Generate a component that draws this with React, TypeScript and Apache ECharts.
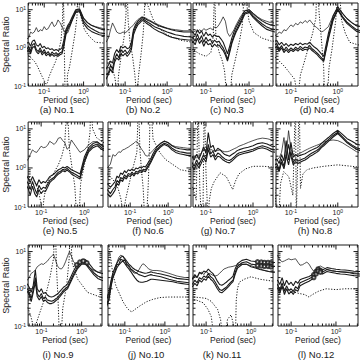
import React, { useEffect, useRef } from "react";
import * as echarts from "echarts";

// ---------- data ----------
const PERIOD = [0.025, 0.03, 0.035, 0.04, 0.045, 0.05, 0.056, 0.063, 0.071, 0.079, 0.089, 0.1, 0.112, 0.126, 0.141, 0.158, 0.178, 0.2, 0.224, 0.251, 0.282, 0.316, 0.355, 0.398, 0.447, 0.501, 0.631, 0.794, 1.0, 1.26, 1.58, 2.0, 2.51, 3.16, 4.0];

const CAPTIONS = ["(a) No.1", "(b) No.2", "(c) No.3", "(d) No.4", "(e) No.5", "(f) No.6", "(g) No.7", "(h) No.8", "(i) No.9", "(j) No.10", "(k) No.11", "(l) No.12"];
const X_MIN = [0.039, 0.037, 0.05, 0.048, 0.05, 0.026, 0.053, 0.048, 0.047, 0.038, 0.051, 0.051];
const X_MAX = [3.3, 3.7, 3.6, 2.7, 2.7, 4.0, 2.66, 2.7, 3.2, 4.0, 3.1, 3.1];
const Y_MIN = 0.1;
const Y_MAX = 15;
const X_NAME = "Period (sec)";
const Y_NAME = "Spectral Ratio";

const a_obs1 = [1.2, 1.2, 1.3, 1.4, 1.1, 1.5, 1.6, 1.2, 1.1, 1.3, 1.0, 1.1, 0.95, 1.0, 0.9, 0.95, 0.85, 0.9, 0.85, 0.9, 1.0, 1.6, 3.0, 3.9, 4.7, 6.2, 10, 10.5, 6, 4.6, 3.9, 3.5, 3.2, 3.0, 2.9];
const a_obs2 = [0.9, 1.0, 0.85, 1.1, 0.8, 1.2, 1.3, 0.9, 0.8, 1.0, 0.75, 0.9, 0.7, 0.8, 0.65, 0.78, 0.68, 0.75, 0.66, 0.74, 0.78, 1.3, 2.6, 3.5, 4.2, 5.5, 9, 9.5, 5, 3.8, 3.2, 2.8, 2.5, 2.4, 2.3];
const a_obs3 = [0.8, 0.85, 0.75, 0.9, 0.7, 1.0, 1.1, 0.8, 0.7, 0.85, 0.65, 0.78, 0.62, 0.7, 0.6, 0.68, 0.6, 0.66, 0.6, 0.66, 0.7, 1.1, 2.2, 3.1, 3.8, 5.0, 8.5, 9, 4.4, 3.2, 2.7, 2.4, 2.2, 2.1, 2.0];
const a_thin = [1.5, 1.6, 1.7, 1.8, 2.6, 2.4, 2.6, 3.4, 2.6, 3.0, 2.8, 3.6, 3.0, 3.2, 4.0, 4.8, 3.6, 4.0, 5.4, 4.6, 3.6, 2.8, 2.4, 2.5, 3.5, 5.0, 9.5, 10, 5.8, 4.5, 3.9, 3.6, 3.4, 3.2, 3.1];
const a_dot = [[0.035, 0.75], [0.039, 0.65], [0.058, 0.43], [0.068, 0.32], [0.09, 0.17], [0.112, 0.11], [0.12, 0.12], [0.131, 0.17], [0.155, 0.26], [0.193, 0.43], [0.227, 0.74], [0.268, 1.6], [0.29, 5], [0.305, 40], [0.32, 2], [0.34, 0.05], [0.37, 0.05], [0.39, 0.2], [0.44, 0.32], [0.52, 0.9], [0.61, 2.5], [0.68, 6.5], [0.72, 50], [0.78, 10], [0.9, 5.4], [1.05, 3], [1.39, 2], [2.0, 1.4], [3.0, 1.35], [4, 1.3]];

const b_obs1 = [0.25, 0.25, 0.28, 0.35, 0.45, 0.4, 0.7, 0.9, 0.75, 1.1, 1.0, 1.1, 0.95, 1.0, 1.4, 3.0, 4.1, 5.0, 5.6, 6.3, 6.0, 5.6, 5.2, 5.0, 4.6, 4.3, 3.8, 3.5, 3.2, 3.0, 2.8, 2.7, 2.6, 2.6, 2.6];
const b_obs2 = [0.18, 0.2, 0.2, 0.22, 0.35, 0.28, 0.5, 0.7, 0.55, 0.9, 0.75, 0.88, 0.7, 0.85, 1.05, 2.6, 3.6, 4.5, 5.0, 5.8, 5.5, 5.0, 4.6, 4.3, 3.9, 3.6, 3.2, 2.9, 2.6, 2.4, 2.2, 2.1, 2.0, 1.95, 1.9];
const b_obs3 = [0.14, 0.15, 0.15, 0.2, 0.28, 0.22, 0.42, 0.55, 0.48, 0.7, 0.62, 0.72, 0.6, 0.7, 0.9, 2.2, 3.1, 4.0, 4.5, 5.2, 5.0, 4.5, 4.1, 3.8, 3.4, 3.1, 2.7, 2.4, 2.1, 1.9, 1.8, 1.7, 1.65, 1.6, 1.6];
const b_thin = [1.2, 1.3, 1.4, 1.8, 3.0, 4.5, 3.5, 2.6, 2.4, 2.4, 2.6, 2.5, 2.7, 3.2, 3.5, 4.0, 4.8, 5.5, 6.0, 6.5, 6.3, 6.0, 5.5, 5.2, 4.8, 4.5, 4.0, 3.6, 3.3, 3.1, 3.0, 2.9, 2.8, 2.8, 2.8];
const b_dot = [[0.03, 0.75], [0.037, 0.65], [0.044, 0.4], [0.052, 0.25], [0.058, 0.15], [0.064, 0.05], [0.07, 0.2], [0.08, 0.6], [0.095, 2], [0.105, 8], [0.11, 60], [0.118, 5], [0.13, 1.5], [0.15, 0.6], [0.17, 0.2], [0.19, 0.05], [0.21, 0.2], [0.24, 0.7], [0.27, 2.5], [0.29, 10], [0.3, 60], [0.33, 15], [0.47, 5.4], [0.7, 3], [1.0, 2.2], [2, 1.6], [4, 1.4]];

const c_obs1 = [2.6, 2.6, 2.6, 2.6, 2.7, 2.6, 2.1, 3.0, 2.4, 2.8, 2.0, 2.6, 2.1, 2.3, 1.9, 2.2, 2.0, 2.0, 1.7, 1.4, 1.0, 0.7, 1.1, 1.8, 2.6, 3.5, 5.6, 9.2, 10, 7.8, 6.2, 5.1, 4.4, 4.0, 3.8];
const c_obs2 = [1.8, 1.8, 1.8, 1.9, 1.7, 1.9, 1.5, 2.3, 1.6, 2.1, 1.4, 1.9, 1.5, 1.7, 1.3, 1.6, 1.4, 1.5, 1.2, 1.0, 0.75, 0.5, 0.85, 1.45, 2.1, 2.9, 4.8, 8.2, 9.2, 6.8, 5.3, 4.3, 3.6, 3.2, 3.0];
const c_obs3 = [1.4, 1.4, 1.4, 1.5, 1.3, 1.5, 1.2, 1.8, 1.3, 1.6, 1.1, 1.5, 1.2, 1.3, 1.05, 1.25, 1.1, 1.2, 1.0, 0.85, 0.65, 0.45, 0.75, 1.3, 1.9, 2.6, 4.3, 7.6, 8.6, 6.2, 4.8, 3.8, 3.1, 2.8, 2.6];
const c_thin = [2.5, 2.5, 2.5, 2.5, 2.6, 2.5, 2.8, 2.6, 3.0, 2.7, 3.2, 2.9, 3.1, 3.3, 3.0, 3.5, 3.4, 4.0, 5.0, 6.5, 5.0, 2.5, 2.0, 2.4, 3.0, 4.0, 6.5, 9.5, 10, 8, 6.5, 5.5, 5.0, 4.6, 4.5];
const c_dot = [[0.04, 0.95], [0.05, 0.9], [0.07, 0.7], [0.1, 0.6], [0.13, 0.75], [0.148, 2], [0.158, 40], [0.17, 2], [0.2, 0.8], [0.24, 0.45], [0.27, 0.25], [0.29, 0.1], [0.3, 0.05], [0.36, 0.05], [0.4, 0.2], [0.5, 0.6], [0.6, 1.5], [0.7, 4], [0.8, 60], [0.9, 12], [1.0, 5], [1.3, 2.5], [2, 1.8], [3.3, 1.5], [4, 1.5]];

const d_obs1 = [1.4, 1.4, 1.4, 1.45, 1.5, 1.55, 1.2, 1.4, 1.15, 1.3, 1.1, 1.25, 1.15, 1.3, 1.2, 1.35, 1.2, 1.3, 1.25, 1.4, 1.2, 1.05, 0.95, 0.82, 0.7, 0.6, 2.4, 6.8, 12, 8, 5.8, 4.6, 3.8, 3.6, 3.5];
const d_obs2 = [1.1, 1.1, 1.1, 1.1, 1.2, 1.3, 0.9, 1.15, 0.85, 1.05, 0.85, 1.0, 0.88, 1.05, 0.92, 1.1, 0.95, 1.05, 1.0, 1.15, 0.95, 0.85, 0.75, 0.65, 0.55, 0.48, 1.9, 5.8, 10.5, 6.6, 4.7, 3.7, 3.0, 2.8, 2.8];
const d_obs3 = [0.95, 0.95, 0.95, 0.95, 1.0, 1.1, 0.8, 1.0, 0.75, 0.9, 0.75, 0.88, 0.8, 0.92, 0.82, 0.95, 0.85, 0.92, 0.88, 1.0, 0.85, 0.76, 0.68, 0.58, 0.5, 0.44, 1.7, 5.3, 9.8, 6.2, 4.3, 3.4, 2.7, 2.5, 2.5];
const d_thin = [2.0, 2.0, 2.0, 2.0, 2.1, 2.2, 2.6, 2.4, 3.0, 2.8, 3.4, 4.0, 3.6, 4.4, 4.0, 4.8, 4.4, 5.2, 4.6, 5.4, 4.5, 3.8, 3.4, 3.0, 2.6, 2.8, 3.6, 7, 11.5, 8, 5.8, 4.5, 3.8, 3.5, 3.4];
const d_dot = [[0.035, 0.6], [0.048, 0.55], [0.074, 0.32], [0.1, 0.2], [0.12, 0.15], [0.14, 0.05], [0.16, 0.2], [0.18, 0.32], [0.23, 0.9], [0.29, 2.4], [0.34, 6], [0.36, 60], [0.4, 8], [0.45, 1.5], [0.5, 0.3], [0.52, 0.05], [0.6, 0.05], [0.65, 0.3], [0.75, 0.9], [0.9, 5], [1.05, 60], [1.2, 5.4], [1.45, 2.4], [1.8, 1.4], [2.7, 1.2], [4, 1.1]];

const e_obs1 = [0.5, 0.5, 0.5, 0.55, 0.6, 0.55, 0.42, 0.6, 0.45, 0.35, 0.5, 0.4, 0.45, 0.42, 0.5, 0.6, 0.65, 0.7, 0.8, 0.9, 0.95, 1.05, 1.0, 1.1, 1.0, 0.9, 0.8, 0.7, 1.9, 3.3, 4.2, 4.6, 3.8, 3.4, 3.2];
const e_obs2 = [0.4, 0.4, 0.4, 0.42, 0.48, 0.4, 0.28, 0.45, 0.3, 0.22, 0.36, 0.28, 0.32, 0.3, 0.38, 0.48, 0.53, 0.58, 0.68, 0.78, 0.82, 0.92, 0.88, 0.97, 0.87, 0.78, 0.68, 0.58, 1.6, 2.9, 3.7, 4.1, 3.3, 2.9, 2.7];
const e_obs3 = [0.3, 0.3, 0.3, 0.33, 0.36, 0.3, 0.2, 0.34, 0.22, 0.18, 0.28, 0.22, 0.26, 0.25, 0.32, 0.42, 0.48, 0.53, 0.62, 0.7, 0.75, 0.85, 0.8, 0.88, 0.8, 0.7, 0.6, 0.52, 1.4, 2.6, 3.3, 3.7, 3.0, 2.6, 2.4];
const e_thin = [1.2, 1.2, 1.3, 1.4, 1.5, 1.65, 2.2, 2.9, 2.6, 2.5, 3.0, 3.6, 3.3, 3.4, 3.8, 4.8, 4.4, 4.0, 4.6, 5.8, 6.0, 5.0, 4.4, 3.0, 3.4, 5.2, 3.6, 2.5, 2.9, 3.9, 4.7, 4.7, 3.6, 3.3, 3.2];
const e_dot = [[0.035, 0.7], [0.05, 0.6], [0.07, 0.45], [0.085, 0.28], [0.1, 0.12], [0.105, 0.05], [0.115, 0.15], [0.13, 0.35], [0.15, 0.5], [0.19, 0.7], [0.25, 1.2], [0.3, 2], [0.35, 4], [0.4, 50], [0.45, 3], [0.52, 1], [0.6, 0.35], [0.67, 0.05], [0.75, 0.05], [0.82, 0.4], [1.0, 1.2], [1.2, 3], [1.35, 8], [1.42, 60], [1.55, 10], [1.9, 6], [2.7, 4.5], [4, 4]];

const f_obs1 = [0.4, 0.32, 0.38, 0.45, 0.62, 0.56, 0.75, 0.68, 0.85, 0.75, 0.9, 0.85, 0.95, 0.85, 1.0, 0.95, 1.05, 1.0, 1.1, 1.05, 1.25, 1.5, 1.8, 2.3, 2.8, 3.4, 4.2, 4.8, 4.4, 3.7, 3.3, 3.1, 3.0, 2.9, 2.9];
const f_obs2 = [0.28, 0.22, 0.28, 0.33, 0.48, 0.42, 0.57, 0.52, 0.67, 0.58, 0.72, 0.68, 0.78, 0.68, 0.82, 0.78, 0.88, 0.83, 0.93, 0.88, 1.07, 1.27, 1.58, 1.95, 2.45, 2.95, 3.7, 4.3, 3.9, 3.2, 2.8, 2.6, 2.5, 2.4, 2.4];
const f_obs3 = [0.22, 0.18, 0.22, 0.27, 0.4, 0.36, 0.5, 0.45, 0.58, 0.52, 0.64, 0.6, 0.7, 0.62, 0.74, 0.7, 0.8, 0.76, 0.85, 0.8, 0.97, 1.15, 1.42, 1.8, 2.25, 2.75, 3.4, 4.0, 3.6, 2.9, 2.5, 2.3, 2.2, 2.1, 2.1];
const f_thin = [1.0, 1.25, 2.2, 2.0, 2.3, 2.6, 2.5, 2.9, 3.0, 3.2, 3.4, 3.7, 4.0, 4.3, 4.8, 4.5, 3.6, 3.0, 2.6, 2.1, 2.0, 2.2, 2.5, 2.8, 3.2, 3.6, 4.3, 4.9, 4.5, 3.8, 3.5, 3.4, 3.3, 3.2, 3.2];
const f_dot = [[0.025, 0.7], [0.03, 0.6], [0.038, 0.45], [0.048, 0.3], [0.058, 0.15], [0.065, 0.05], [0.075, 0.15], [0.088, 0.3], [0.11, 0.76], [0.15, 2.5], [0.165, 60], [0.18, 3], [0.2, 0.8], [0.22, 0.3], [0.24, 0.05], [0.27, 0.05], [0.3, 0.4], [0.32, 3], [0.34, 60], [0.4, 5.5], [0.6, 2.5], [0.85, 1.65], [2.1, 0.9], [4, 0.8]];

const g_obs1 = [1.9, 1.9, 1.9, 1.9, 1.9, 2.0, 1.6, 2.2, 1.7, 2.3, 3.5, 2.4, 8, 3.3, 3.8, 2.6, 3.2, 2.9, 2.5, 2.2, 2.1, 2.0, 2.2, 2.4, 2.7, 2.9, 3.2, 3.4, 3.7, 4.2, 4.4, 4.1, 3.6, 3.5, 3.5];
const g_obs2 = [1.4, 1.4, 1.4, 1.4, 1.4, 1.4, 1.1, 1.6, 1.2, 1.6, 2.2, 1.7, 4, 2.3, 2.7, 1.9, 2.4, 2.2, 1.9, 1.7, 1.6, 1.55, 1.7, 1.9, 2.2, 2.4, 2.6, 2.8, 3.0, 3.4, 3.7, 3.4, 3.0, 2.85, 2.8];
const g_obs3 = [1.1, 1.1, 1.1, 1.1, 1.1, 1.15, 0.9, 1.3, 1.0, 1.3, 1.8, 1.4, 3, 1.9, 2.2, 1.6, 2.0, 1.9, 1.65, 1.5, 1.4, 1.35, 1.5, 1.7, 1.95, 2.15, 2.35, 2.5, 2.7, 3.1, 3.3, 3.0, 2.6, 2.5, 2.4];
const g_thin = [2.0, 2.0, 2.0, 2.0, 2.0, 2.0, 1.8, 2.2, 2.0, 2.4, 3.0, 2.6, 3.2, 3.0, 2.8, 2.7, 2.8, 2.9, 2.7, 2.6, 2.6, 2.7, 2.9, 3.1, 3.3, 3.6, 4.0, 4.5, 5.0, 5.5, 5.8, 5.6, 5.2, 5.0, 5.0];
const g_dot = [[0.04, 0.5], [0.053, 0.3], [0.062, 0.15], [0.068, 60], [0.074, 0.3], [0.08, 0.05], [0.086, 0.05], [0.092, 60], [0.1, 0.8], [0.11, 0.05], [0.118, 0.15], [0.13, 0.3], [0.15, 0.45], [0.2, 0.75], [0.27, 0.6], [0.32, 0.4], [0.37, 0.28], [0.42, 0.45], [0.5, 0.7], [0.7, 0.95], [1.0, 1.1], [1.7, 1.1], [2.7, 1.05], [4, 1.0]];

const h_obs1 = [1.6, 1.6, 1.6, 1.6, 1.6, 1.7, 1.3, 2.2, 1.5, 5, 1.6, 4.5, 1.9, 2.2, 2.0, 2.1, 2.2, 2.3, 2.5, 2.7, 2.9, 3.1, 3.3, 3.6, 4.2, 4.8, 6.0, 7.6, 9.2, 7.2, 5.6, 4.8, 4.1, 3.8, 3.7];
const h_obs2 = [1.2, 1.2, 1.2, 1.2, 1.2, 1.3, 0.9, 1.7, 1.1, 2.2, 1.2, 2.6, 1.4, 1.7, 1.5, 1.6, 1.7, 1.8, 2.0, 2.2, 2.4, 2.6, 2.8, 3.1, 3.6, 4.1, 5.3, 6.8, 8.2, 6.2, 4.7, 3.9, 3.3, 3.0, 2.9];
const h_obs3 = [1.0, 1.0, 1.0, 1.0, 1.0, 1.1, 0.8, 1.4, 0.95, 1.8, 4, 2.0, 1.2, 1.45, 1.3, 1.4, 1.5, 1.6, 1.75, 1.95, 2.1, 2.3, 2.5, 2.8, 3.3, 3.7, 4.8, 6.2, 7.6, 5.8, 4.4, 3.6, 3.0, 2.7, 2.6];
const h_thin = [1.6, 1.6, 1.6, 1.6, 1.6, 1.6, 1.8, 2.5, 6, 2.0, 9, 3.0, 2.2, 2.0, 2.2, 2.4, 2.6, 2.8, 3.0, 3.2, 3.4, 3.6, 3.8, 4.0, 4.3, 4.6, 5.0, 5.2, 5.0, 4.4, 3.7, 3.1, 2.6, 2.4, 2.3];
const h_dot = [[0.03, 0.5], [0.045, 0.35], [0.05, 0.05], [0.055, 0.05], [0.06, 0.4], [0.07, 0.8], [0.09, 0.6], [0.11, 0.2], [0.125, 60], [0.13, 0.05], [0.15, 60], [0.16, 0.3], [0.18, 0.7], [0.22, 0.9], [0.3, 1.0], [0.5, 1.1], [1.0, 1.2], [2, 1.1], [4, 1.0]];

const i_obs1 = [1.2, 1.2, 1.2, 1.25, 1.35, 1.1, 0.8, 1.25, 3.2, 1.0, 0.82, 1.0, 0.75, 0.8, 0.68, 0.62, 0.6, 0.62, 0.67, 0.72, 0.83, 0.95, 1.1, 1.2, 1.35, 1.75, 3.0, 4.6, 6.0, 6.0, 4.5, 3.3, 2.8, 2.6, 2.5];
const i_obs2 = [0.9, 0.9, 0.9, 0.95, 1.0, 0.8, 0.55, 0.95, 2.0, 0.75, 0.6, 0.75, 0.55, 0.6, 0.5, 0.48, 0.46, 0.48, 0.53, 0.58, 0.68, 0.78, 0.92, 1.02, 1.12, 1.45, 2.5, 3.9, 5.1, 5.1, 3.7, 2.7, 2.2, 2.0, 1.9];
const i_obs3 = [0.75, 0.75, 0.75, 0.8, 0.85, 0.68, 0.45, 0.8, 1.5, 0.62, 0.5, 0.62, 0.46, 0.5, 0.43, 0.4, 0.4, 0.42, 0.47, 0.52, 0.6, 0.7, 0.82, 0.92, 1.0, 1.3, 2.2, 3.5, 4.6, 4.6, 3.3, 2.4, 1.9, 1.7, 1.6];
const i_thin = [1.5, 1.6, 1.6, 1.6, 1.7, 2.0, 2.6, 2.8, 3.2, 3.9, 4.3, 4.7, 4.5, 5.0, 5.5, 6.5, 7.5, 8.5, 6.0, 4.1, 3.5, 3.4, 4.0, 5.3, 7.5, 10, 5.3, 4.2, 5.0, 4.6, 3.7, 3.1, 2.8, 2.6, 2.6];
const i_dot = [[0.03, 0.4], [0.047, 0.3], [0.055, 0.18], [0.063, 0.1], [0.069, 0.05], [0.075, 0.12], [0.085, 0.18], [0.1, 0.3], [0.125, 0.6], [0.16, 1.8], [0.2, 6.4], [0.22, 60], [0.24, 3], [0.26, 0.5], [0.28, 0.05], [0.31, 0.05], [0.34, 0.3], [0.43, 1.4], [0.49, 6.4], [0.52, 60], [0.58, 5], [0.8, 1.8], [1.4, 0.8], [2.9, 0.6], [4, 0.55]];
const i_marks = [[0.75, 4.4], [0.9, 5.2], [1.1, 5.6], [1.35, 5.0]];

const j_obs1 = [0.35, 0.4, 0.5, 0.75, 1.6, 2.6, 3.6, 4.8, 6.0, 7.0, 7.5, 6.5, 5.5, 4.6, 4.1, 3.6, 3.3, 3.1, 2.9, 2.8, 2.7, 2.6, 2.65, 2.75, 2.85, 2.75, 2.6, 2.5, 2.35, 2.2, 2.05, 1.9, 1.85, 1.8, 1.75];
const j_obs2 = [0.28, 0.32, 0.38, 0.55, 1.2, 2.1, 2.8, 4.4, 4.6, 6.2, 5.8, 5.9, 4.4, 4.2, 3.4, 3.1, 2.8, 2.6, 2.4, 2.3, 2.2, 2.1, 2.2, 2.3, 2.4, 2.3, 2.2, 2.1, 1.95, 1.8, 1.7, 1.6, 1.55, 1.5, 1.45];
const j_obs3 = [0.25, 0.28, 0.33, 0.5, 1.1, 1.9, 2.6, 3.6, 4.4, 5.0, 5.6, 4.8, 4.0, 3.4, 2.9, 2.4, 2.0, 1.7, 1.55, 1.5, 1.5, 1.55, 1.6, 1.7, 1.8, 1.8, 1.75, 1.7, 1.65, 1.6, 1.55, 1.45, 1.4, 1.35, 1.3];
const j_thin = [0.4, 0.5, 0.6, 0.8, 1.5, 2.5, 3.5, 5, 7, 8, 7.5, 6.0, 4.8, 3.8, 3.2, 2.8, 2.6, 2.7, 3.2, 4.0, 4.7, 4.4, 3.8, 3.4, 3.2, 3.1, 3.1, 3.0, 2.8, 2.6, 2.4, 2.2, 2.1, 2.0, 2.0];
const j_dot = [[0.038, 20], [0.045, 6], [0.05, 2.5], [0.06, 1.2], [0.075, 0.7], [0.09, 0.45], [0.11, 0.32], [0.13, 0.26], [0.15, 0.24], [0.18, 0.28], [0.24, 0.35], [0.35, 0.45], [0.5, 0.52], [0.75, 0.58], [1.2, 0.6], [2, 0.6], [4, 0.6]];

const k_obs1 = [1.8, 1.8, 1.8, 1.8, 1.8, 1.9, 2.4, 2.0, 2.8, 2.5, 3.0, 2.8, 3.4, 2.9, 2.6, 2.1, 1.6, 1.3, 1.25, 1.35, 1.5, 1.7, 1.9, 2.2, 3.5, 4.7, 5.8, 6.2, 5.6, 5.4, 5.3, 5.3, 5.2, 5.1, 5.1];
const k_obs2 = [1.3, 1.3, 1.3, 1.3, 1.3, 1.35, 1.7, 1.45, 2.0, 1.8, 2.2, 2.0, 2.6, 2.1, 1.9, 1.55, 1.2, 0.95, 0.9, 1.0, 1.1, 1.3, 1.5, 1.7, 2.8, 4.0, 5.0, 5.3, 4.6, 4.4, 4.3, 4.2, 4.1, 4.0, 4.0];
const k_obs3 = [1.1, 1.1, 1.1, 1.1, 1.1, 1.15, 1.4, 1.2, 1.7, 1.5, 1.85, 1.7, 2.2, 1.8, 1.6, 1.3, 1.0, 0.82, 0.78, 0.88, 1.0, 1.15, 1.35, 1.55, 2.5, 3.6, 4.5, 4.6, 3.9, 3.6, 3.3, 3.1, 2.9, 2.8, 2.8];
const k_thin = [1.8, 1.8, 1.8, 1.8, 1.8, 1.8, 2.2, 2.0, 2.6, 2.8, 2.4, 3.0, 2.6, 2.5, 2.3, 2.2, 2.3, 2.6, 3.0, 3.4, 3.6, 3.8, 3.9, 4.0, 4.2, 4.4, 4.6, 4.5, 4.2, 3.8, 3.4, 3.1, 2.9, 2.8, 2.8];
const k_dot = [[0.04, 0.6], [0.051, 0.6], [0.074, 0.58], [0.1, 0.55], [0.13, 0.46], [0.18, 0.28], [0.21, 0.15], [0.235, 0.05], [0.26, 0.05], [0.3, 0.15], [0.36, 0.2], [0.4, 0.12], [0.42, 0.05], [0.45, 0.05], [0.47, 0.5], [0.5, 1.0], [0.55, 1.5], [0.7, 1.8], [1.0, 2.1], [1.6, 1.8], [3.1, 1.6], [4, 1.6]];
const k_dot2 = [[0.04, 0.5], [0.06, 0.5], [0.086, 0.42], [0.11, 0.28], [0.13, 0.18], [0.15, 0.05]];
const k_marks = [[1.4, 5.3], [1.7, 5.2], [2.0, 5.1], [2.4, 5.1], [2.8, 5.0], [1.4, 4.2], [1.7, 4.1], [2.0, 4.0], [2.4, 4.0], [2.8, 3.9]];

const l_obs1 = [1.6, 1.6, 1.6, 1.6, 1.6, 1.7, 1.3, 2.0, 1.2, 1.7, 1.3, 1.5, 1.2, 1.6, 1.4, 1.75, 1.85, 1.95, 2.05, 2.15, 2.3, 2.5, 3.1, 3.8, 3.4, 3.2, 3.7, 3.5, 3.35, 3.25, 3.2, 3.1, 2.95, 2.9, 2.9];
const l_obs2 = [1.2, 1.2, 1.2, 1.2, 1.2, 1.3, 0.9, 1.45, 0.85, 1.2, 0.9, 1.0, 0.85, 1.15, 1.0, 1.45, 1.55, 1.65, 1.75, 1.85, 2.0, 2.2, 2.8, 3.4, 3.0, 2.8, 3.3, 3.1, 2.95, 2.85, 2.8, 2.7, 2.55, 2.5, 2.5];
const l_obs3 = [0.95, 0.95, 0.95, 0.95, 1.0, 1.05, 0.75, 1.2, 0.7, 1.0, 0.72, 0.85, 0.7, 0.95, 0.85, 1.2, 1.3, 1.4, 1.5, 1.6, 1.75, 1.95, 2.5, 3.0, 2.7, 2.5, 2.9, 2.75, 2.6, 2.5, 2.45, 2.35, 2.25, 2.2, 2.2];
const l_thin = [7.5, 7.5, 7.5, 7.6, 7.7, 7.8, 6.0, 5.3, 5.6, 6.0, 6.4, 6.0, 6.2, 6.4, 5.2, 4.3, 4.4, 4.8, 5.2, 4.6, 3.6, 3.0, 3.4, 3.8, 4.1, 3.8, 3.3, 3.0, 2.9, 2.9, 2.8, 2.8, 2.7, 2.6, 2.6];
const l_dot = [[0.04, 1.1], [0.051, 1.1], [0.07, 1.0], [0.1, 0.85], [0.15, 0.75], [0.2, 0.7], [0.25, 0.6], [0.3, 0.7], [0.4, 0.85], [0.6, 1.0], [1.0, 0.95], [1.6, 1.0], [3.1, 1.0], [4, 1.0]];
const l_marks = [[0.32, 2.4], [0.36, 2.9], [0.4, 3.4], [0.45, 3.1], [0.32, 2.0], [0.36, 2.5], [0.4, 3.0], [0.45, 2.8]];

const OBS = [
  [a_obs1, a_obs2, a_obs3], [b_obs1, b_obs2, b_obs3], [c_obs1, c_obs2, c_obs3], [d_obs1, d_obs2, d_obs3],
  [e_obs1, e_obs2, e_obs3], [f_obs1, f_obs2, f_obs3], [g_obs1, g_obs2, g_obs3], [h_obs1, h_obs2, h_obs3],
  [i_obs1, i_obs2, i_obs3], [j_obs1, j_obs2, j_obs3], [k_obs1, k_obs2, k_obs3], [l_obs1, l_obs2, l_obs3],
];
const THIN = [a_thin, b_thin, c_thin, d_thin, e_thin, f_thin, g_thin, h_thin, i_thin, j_thin, k_thin, l_thin];
const DOTS = [[a_dot], [b_dot], [c_dot], [d_dot], [e_dot], [f_dot], [g_dot], [h_dot], [i_dot], [j_dot], [k_dot, k_dot2], [l_dot]];
const MARKS = [null, null, null, null, null, null, null, null, i_marks, null, k_marks, l_marks];

// ---------- layout / style ----------
const FONT = '"Liberation Sans", Arial, Helvetica, sans-serif';
const INK = "#1a1a1a";
const BOXES = [
  [23, 3, 81, 83], [107, 3, 84, 83], [193, 3, 80, 83], [276, 3, 82, 83],
  [23, 122, 80, 85], [108, 122, 83, 85], [193, 122, 80, 85], [276, 122, 82, 85],
  [23, 245, 79, 81], [108, 245, 81, 81], [193, 245, 80, 81], [278, 245, 80, 81],
];
const CAPTION_X = [57, 143, 227, 317, 60, 148, 218, 315, 58, 146, 222, 316];
const CAPTION_Y = [109.5, 109.5, 109.5, 109.5, 230, 230, 230, 230, 354.5, 354.5, 354.5, 354.5];

const powLabel = (v: number) => {
  const e = Math.round(Math.log10(v));
  return `{b|10}{s|${e}}`;
};
const RICH = {
  b: { fontSize: 7, fontFamily: FONT, color: INK, lineHeight: 8 },
  s: { fontSize: 5, fontFamily: FONT, color: INK, lineHeight: 8, verticalAlign: "top" },
};

function tickData(xMin: number, xMax: number) {
  const out: number[][] = [];
  for (const d of [0.01, 0.1, 1]) {
    for (let m = 1; m <= 9; m++) {
      const v = +(m * d).toPrecision(3);
      if (v > xMin * 1.01 && v < xMax * 0.99) out.push([v, m === 1 ? 1 : 2]);
    }
  }
  for (const d of [0.1, 1, 10]) {
    for (let m = 1; m <= 9; m++) {
      const v = +(m * d).toPrecision(3);
      if (v > Y_MIN * 1.01 && v < Y_MAX * 0.99) out.push([v, m === 1 ? 3 : 4]);
    }
  }
  return out;
}

function buildOption() {
  const grid: any[] = [];
  const xAxis: any[] = [];
  const yAxis: any[] = [];
  const series: any[] = [];
  const graphic: any[] = [];

  for (let i = 0; i < 12; i++) {
    const [l, t, w, h] = BOXES[i];
    const left = i % 4 === 0;
    const xMin = X_MIN[i];
    const xMax = X_MAX[i];
    grid.push({ left: l, top: t, width: w, height: h, show: true, borderColor: INK, borderWidth: 1, backgroundColor: "rgba(0,0,0,0)" });
    xAxis.push({
      type: "log", logBase: 10, gridIndex: i, min: xMin, max: xMax,
      axisLine: { show: false }, axisTick: { show: false }, splitLine: { show: false }, minorTick: { show: false },
      axisLabel: { show: true, margin: 1, formatter: powLabel, rich: RICH, showMinLabel: false, showMaxLabel: false },
      name: X_NAME, nameLocation: "middle", nameGap: 8,
      nameTextStyle: { fontSize: 8.5, lineHeight: 9, fontFamily: FONT, color: INK },
    });
    yAxis.push({
      type: "log", logBase: 10, gridIndex: i, min: Y_MIN, max: Y_MAX,
      axisLine: { show: false }, axisTick: { show: false }, splitLine: { show: false }, minorTick: { show: false },
      axisLabel: { show: left, margin: 2, formatter: powLabel, rich: RICH, showMinLabel: true, showMaxLabel: false },
      name: left ? Y_NAME : "", nameLocation: "middle", nameGap: 8,
      nameTextStyle: { fontSize: 9, lineHeight: 9, fontFamily: FONT, color: INK },
    });

    const lineBase = { type: "line", xAxisIndex: i, yAxisIndex: i, showSymbol: false, symbol: "none", silent: true, clip: true, animation: false };
    OBS[i].forEach((arr) => {
      series.push({ ...lineBase, data: PERIOD.map((p, k) => [p, arr[k]]), lineStyle: { color: INK, width: 1.1 }, z: 3 });
    });
    series.push({ ...lineBase, data: PERIOD.map((p, k) => [p, THIN[i][k]]), lineStyle: { color: INK, width: 0.75 }, z: 2 });
    DOTS[i].forEach((pts) => {
      series.push({ ...lineBase, data: pts, lineStyle: { color: INK, width: 1, type: [1.2, 1.6] }, z: 2 });
    });
    const mk = MARKS[i];
    if (mk) {
      series.push({ type: "scatter", xAxisIndex: i, yAxisIndex: i, data: mk, symbol: "emptyCircle", symbolSize: 3.5, silent: true, itemStyle: { color: INK, borderWidth: 0.8 }, z: 4 });
    }
    series.push({
      type: "custom", xAxisIndex: i, yAxisIndex: i, silent: true, clip: false, z: 5,
      data: tickData(xMin, xMax),
      renderItem: (_p: any, api: any) => {
        const v = api.value(0);
        const code = api.value(1);
        const len = code === 1 || code === 3 ? 4.5 : 2.5;
        const st = { stroke: INK, lineWidth: 1 };
        if (code <= 2) {
          const pb = api.coord([v, Y_MIN]);
          const pt = api.coord([v, Y_MAX]);
          return {
            type: "group", children: [
              { type: "line", shape: { x1: pb[0], y1: pb[1], x2: pb[0], y2: pb[1] - len }, style: st },
              { type: "line", shape: { x1: pt[0], y1: pt[1], x2: pt[0], y2: pt[1] + len }, style: st },
            ],
          };
        }
        const pl = api.coord([xMin, v]);
        const pr = api.coord([xMax, v]);
        return {
          type: "group", children: [
            { type: "line", shape: { x1: pl[0], y1: pl[1], x2: pl[0] + len, y2: pl[1] }, style: st },
            { type: "line", shape: { x1: pr[0], y1: pr[1], x2: pr[0] - len, y2: pr[1] }, style: st },
          ],
        };
      },
    });

    graphic.push({
      type: "text", x: CAPTION_X[i], y: CAPTION_Y[i], silent: true,
      style: { text: CAPTIONS[i], fontSize: 9.5, fontFamily: FONT, fill: INK, textAlign: "center", textVerticalAlign: "middle", align: "center", verticalAlign: "middle" },
    });
  }

  return { animation: false, backgroundColor: "#ffffff", grid, xAxis, yAxis, series, graphic };
}

export default function App() {
  const ref = useRef<HTMLDivElement>(null);
  useEffect(() => {
    const el = ref.current;
    if (!el) return;
    const chart = echarts.init(el, null, { renderer: "svg" });
    chart.setOption(buildOption() as any);
    return () => chart.dispose();
  }, []);
  return <div ref={ref} style={{ position: "absolute", left: 0, top: 0, width: 362, height: 361, background: "#fff" }} />;
}
